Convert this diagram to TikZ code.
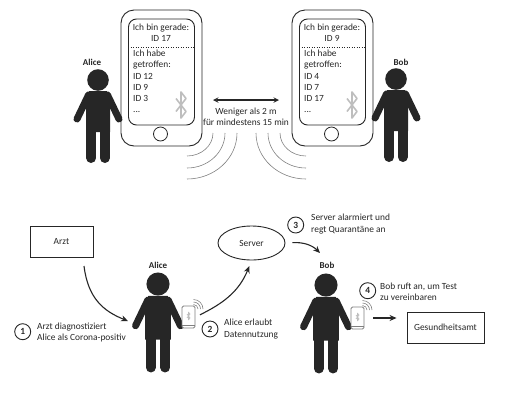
\documentclass[tikz,border=0pt]{standalone}
\usepackage{fontspec}
\setmainfont{Carlito}
\usepackage{xcolor}
\usetikzlibrary{shapes.geometric,arrows.meta}
\definecolor{ink}{RGB}{38,38,38}
\definecolor{wave}{RGB}{130,130,130}
\definecolor{btgray}{RGB}{190,190,190}

\tikzset{
  btline/.style={line width=1.6},
  person/.pic={
    \fill[ink] (0,0) circle (10.8);
    \fill[ink] (-9,11) -- (9,11) -- (12,17) -- (12,52) -- (-12,52) -- (-12,17) -- cycle;
    \draw[ink,line width=7,line cap=round] (-9.5,15) -- (-21,39);
    \draw[ink,line width=7,line cap=round] (9.5,15) -- (21,39);
    \draw[ink,line width=10,line cap=round] (-6.8,50) -- (-6.8,78);
    \draw[ink,line width=10,line cap=round] (6.8,50) -- (6.8,78);
  },
  bluetooth/.pic={
    \draw[btgray,btline,line join=round] (-5,-6.5) -- (5,6.5) -- (0,13) -- (0,-13) -- (5,-6.5) -- (-5,6.5);
  }
}

\begin{document}
\begin{tikzpicture}[x=1pt,y=-1pt,>=stealth,
    every node/.style={font=\fontsize{9.4}{11.2}\selectfont,text=ink},
    phonebody/.style={draw=ink,line width=0.9,rounded corners=13,minimum width=81,minimum height=136,inner sep=0},
    phonescreen/.style={draw=ink,line width=0.9,rounded corners=8,minimum width=66,minimum height=106,inner sep=0},
    homebtn/.style={draw=ink,line width=0.8,circle,minimum size=14,inner sep=0},
    minibody/.style={draw=gray,line width=0.9,rounded corners=1.5,fill=white,minimum width=13,minimum height=22,inner sep=0},
    box/.style={draw=ink,line width=0.9,inner sep=0},
    numcircle/.style={draw=ink,line width=0.9,circle,minimum size=16,inner sep=0,font=\fontsize{9.4}{11}\selectfont\bfseries},
    sidetext/.style={align=left,anchor=west,inner sep=0},
    listtext/.style={align=left,anchor=north west,inner sep=0},
    radiowave/.style={wave,line width=0.6},
    bigarrow/.style={->,ink,line width=1.1,>={Stealth[length=7pt,width=6pt]}}]
  \useasboundingbox (0,0) rectangle (511,400);

  % top part: phones
  \foreach \nm/\cx in {a/161.5,b/332.5}{
    \node[phonebody] (phone\nm) at (\cx,78) {};
    \node[phonescreen] (screen\nm) at (\cx,72) {};
    \node[homebtn] (home\nm) at (\cx-1,134) {};
    \draw[ink,dotted,line width=0.5] ([yshift=-29pt]screen\nm.north west) -- ([yshift=-29pt]screen\nm.north east);
  }
  \pic at (181,105) {bluetooth};
  \pic at (352,105) {bluetooth};

  \node[align=center,inner sep=0] (nowa) at (161,33) {Ich bin gerade:\\ID 17};
  \node[align=center,inner sep=0] (nowb) at (332,33) {Ich bin gerade:\\ID 9};
  \node[listtext] (meta) at (133,50) {Ich habe\\getroffen:\\ID 12\\ID 9\\ID 3\\...};
  \node[listtext] (metb) at (304,50) {Ich habe\\getroffen:\\ID 4\\ID 7\\ID 17\\...};

  % people on top
  \pic at (98,80) {person};
  \pic at (396,79) {person};
  \node[font=\fontsize{9}{11}\selectfont\bfseries] (alicetop) at (92,62) {Alice};
  \node[font=\fontsize{9}{11}\selectfont\bfseries] (bobtop) at (401,62) {Bob};

  % distance
  \coordinate (distl) at (213,100);
  \coordinate (distr) at (279,100);
  \draw[<->,ink,line width=1.4] (distl) -- (distr);
  \node[align=center,inner sep=0] (dist) at (246,117) {Weniger als 2 m\\für mindestens 15 min};

  \foreach \rx/\ry in {26/23,38/35,50/46}{
    \draw[radiowave] (187+\rx,133) arc[start angle=0,end angle=-90,x radius=\rx pt,y radius=\ry pt];
    \draw[radiowave] (306-\rx,133) arc[start angle=180,end angle=270,x radius=\rx pt,y radius=\ry pt];
  }

  % bottom part
  \node[box,minimum width=63,minimum height=31] (arzt) at (61.5,241.5) {Arzt};
  \node[box,ellipse,minimum width=67,minimum height=34] (server) at (251.5,243) {Server};
  \node[box,minimum width=77,minimum height=31] (amt) at (445.5,327.5) {Gesundheitsamt};

  \pic[scale=1.07] at (158,284) {person};
  \pic[scale=1.07] at (326,285) {person};
  \node[font=\fontsize{9}{11}\selectfont\bfseries] (alice) at (158,265) {Alice};
  \node[font=\fontsize{9}{11}\selectfont\bfseries] (bob) at (327,265) {Bob};

  % small phones
  \foreach \nm/\cx/\cy in {c/188.5/317,d/357.5/318}{
    \node[minibody] (phone\nm) at (\cx,\cy) {};
    \foreach \r in {4.5,7,9.5}{
      \draw[radiowave] (\cx+\r+5,\cy-8) arc[start angle=0,end angle=90,radius=\r pt];
    }
    \draw[gray,line width=0.5] ([yshift=3.5pt]phone\nm.south west) -- ([yshift=3.5pt]phone\nm.south east);
    \pic[scale=0.3,btline/.style={line width=0.7}] at (\cx,\cy-1) {bluetooth};
  }

  \coordinate (arztout) at (84,266);
  \coordinate (aliceein) at (128,321);
  \coordinate (bobein) at (320,253);
  \draw[bigarrow] (arztout) .. controls (88,298) and (103,311) .. (aliceein);
  \draw[bigarrow,shorten <=5pt,shorten >=6pt] (phonec.east) .. controls (222,304) and (239,292) .. (server.south);
  \draw[bigarrow,shorten <=7pt] (server.east) .. controls (303,242) and (312,245) .. (bobein);
  \draw[bigarrow,shorten <=9pt,shorten >=10pt] (phoned.east) -- (phoned.east -| amt.west);

  % steps
  \node[numcircle] (one) at (22.7,331.7) {1};
  \node[numcircle] (two) at (210,329) {2};
  \node[numcircle] (three) at (295.7,225) {3};
  \node[numcircle] (four) at (367.7,290.7) {4};

  \node[sidetext] (onetxt) at (37,332.5) {Arzt diagnostiziert\\Alice als Corona-positiv};
  \node[sidetext] (twotxt) at (224,329) {Alice erlaubt\\Datennutzung};
  \node[sidetext] (threetxt) at (311,224) {Server alarmiert und\\regt Quarantäne an};
  \node[sidetext] (fourtxt) at (380,291.5) {Bob ruft an, um Test\\zu vereinbaren};
\end{tikzpicture}
\end{document}
